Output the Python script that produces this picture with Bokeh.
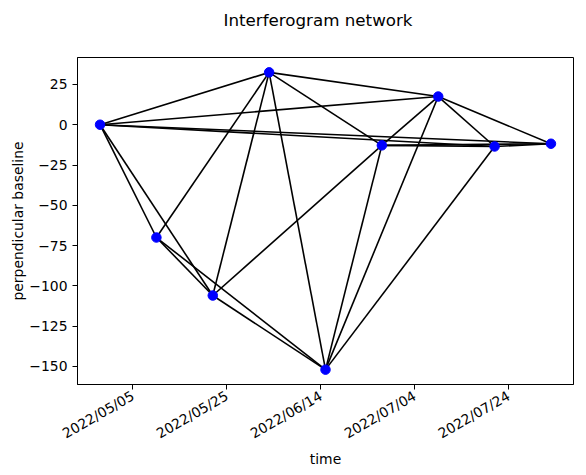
import math
from datetime import datetime
from bokeh.plotting import figure
from bokeh.models import (ColumnDataSource, Range1d, FixedTicker, DatetimeTickFormatter,
                          CustomJSTickFormatter, Title)
from bokeh.embed import file_html
from bokeh.resources import INLINE

# acquisition dates and perpendicular baselines
dates = ["2022-04-28", "2022-05-10", "2022-05-22", "2022-06-03", "2022-06-15",
         "2022-06-27", "2022-07-09", "2022-07-21", "2022-08-02"]
bperp = [0.0, -70.0, -106.0, 32.5, -152.0, -12.8, 17.5, -13.5, -11.8]

# interferogram pairs (indices into dates)
pair_ref = [0, 0, 0, 0, 0, 0, 1, 1, 1, 2, 2, 2, 3, 3, 3, 4, 4, 4, 5, 5, 5, 6, 6, 7]
pair_sec = [1, 2, 3, 6, 7, 8, 2, 3, 4, 3, 4, 5, 4, 5, 6, 5, 6, 7, 6, 7, 8, 7, 8, 8]

x_ticks = ["2022-05-05", "2022-05-25", "2022-06-14", "2022-07-04", "2022-07-24"]
y_ticks = [-150, -125, -100, -75, -50, -25, 0, 25]

FONT = "DejaVu Sans"

t = [datetime.strptime(d, "%Y-%m-%d") for d in dates]
span = t[-1] - t[0]
pad = span * 0.05
ymin, ymax = min(bperp), max(bperp)
ypad = (ymax - ymin) * 0.05

p = figure(x_axis_type="datetime", width=586, height=475,
           output_backend="svg", toolbar_location=None,
           x_range=Range1d(t[0] - pad, t[-1] + pad),
           y_range=Range1d(ymin - ypad, ymax + ypad),
           frame_width=496, frame_height=327,
           min_border_left=77, min_border_right=13, min_border_top=57, min_border_bottom=91)

edges = ColumnDataSource(dict(
    x0=[t[i] for i in pair_ref], y0=[bperp[i] for i in pair_ref],
    x1=[t[j] for j in pair_sec], y1=[bperp[j] for j in pair_sec]))
p.segment("x0", "y0", "x1", "y1", source=edges, line_color="black", line_width=1.6)

pts = ColumnDataSource(dict(x=t, y=bperp))
p.scatter("x", "y", source=pts, size=9.5, fill_color="blue", line_color="blue")

p.grid.visible = False
p.outline_line_color = "black"
p.outline_line_width = 1
p.outline_line_alpha = 1
p.background_fill_color = "white"
p.border_fill_color = "white"

tick_ms = [datetime.strptime(d, "%Y-%m-%d").timestamp() * 1000 for d in x_ticks]
p.xaxis.ticker = FixedTicker(ticks=tick_ms)
fmt = "%Y/%m/%d"
p.xaxis.formatter = DatetimeTickFormatter(
    milliseconds=fmt, seconds=fmt, minsec=fmt, minutes=fmt, hourmin=fmt,
    hours=fmt, days=fmt, months=fmt, years=fmt)
p.xaxis.major_label_orientation = math.pi / 6
p.yaxis.ticker = FixedTicker(ticks=y_ticks)
p.yaxis.formatter = CustomJSTickFormatter(code="return tick.toString().replace('-', '\u2212')")

for ax in (p.xaxis, p.yaxis):
    ax.axis_line_color = "black"
    ax.major_tick_line_color = "black"
    ax.major_tick_in = 0
    ax.major_tick_out = 5
    ax.minor_tick_line_color = None
    ax.major_label_text_font = FONT
    ax.major_label_text_font_size = "13.9px"
    ax.major_label_text_color = "black"
    ax.major_label_standoff = 5
    ax.axis_label_text_font = FONT
    ax.axis_label_text_font_size = "13.9px"
    ax.axis_label_text_font_style = "normal"
    ax.axis_label_text_color = "black"

p.xaxis.axis_label = "time"
p.yaxis.axis_label = "perpendicular baseline"
p.xaxis.axis_label_standoff = 0
p.yaxis.axis_label_standoff = 0

# spacer (nearest the frame) then the main title above it
spacer = Title(text=" ", text_font_size="10px", standoff=3)
p.add_layout(spacer, "above")
main_title = Title(text="Interferogram network", text_font=FONT, text_font_size="16.7px",
                   text_font_style="normal", text_color="black", align="left",
                   offset=146, vertical_align="top", standoff=19)
p.add_layout(main_title, "above")

open("out.html", "w").write(file_html(p, INLINE))
